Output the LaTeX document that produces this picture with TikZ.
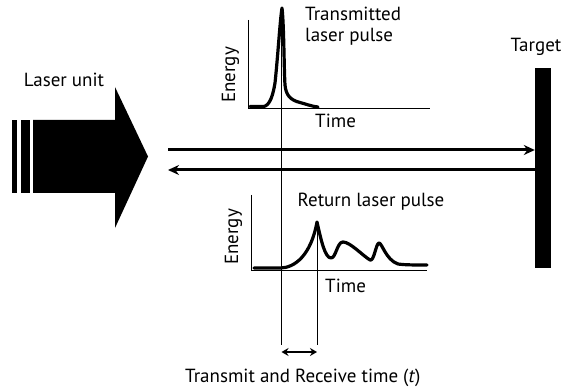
\documentclass[tikz,border=0pt]{standalone}
\usepackage{fontspec}
\setmainfont{PT Sans}
\usetikzlibrary{arrows.meta}
\begin{document}
\begin{tikzpicture}[x=1pt,y=-1pt,
  lbl/.style={font=\fontsize{19}{21}\selectfont, inner sep=0pt},
  axis/.style={line width=0.9pt},
  marker/.style={line width=0.8pt},
  pulse/.style={line width=3.2pt, line join=round, line cap=round},
  beam/.style={line width=3pt, -{Stealth[length=11pt,width=10pt]}},
  span/.style={line width=2pt, {Stealth[length=7pt,width=8pt]}-{Stealth[length=7pt,width=8pt]}}]
\useasboundingbox (0,0) rectangle (561,387);
\fill[white] (0,0) rectangle (561,387);

% laser unit
\fill (12.3,120) rectangle (16.7,193);
\fill (21,120) rectangle (30,193);
\fill (33,120) -- (115,120) -- (115,87) -- (148,156.5) -- (115,228) -- (115,193) -- (33,193) -- cycle;
\node[lbl, anchor=base] (laserlbl) at (64,87) {Laser unit};
\coordinate (laserout) at (168,150);
\coordinate (laserin) at (168,170);

% target
\node[fill=black, minimum width=16pt, minimum height=200pt, inner sep=0pt] (target) at (543,168) {};
\node[lbl, anchor=base] (targetlbl) at (536,52) {Target};

% beams
\draw[beam] (laserout) -- (laserout -| target.west);
\draw[beam] (laserin -| target.west) -- (laserin);

% transmitted pulse plot
\coordinate (t0) at (248,108);
\draw[axis] (248,20) -- (t0) -- (430,108);
\draw[pulse] (250,106.5) -- (264,106.5) .. controls (270,105) and (273,95) .. (275,83)
  .. controls (278,55) and (280,20) .. (282,8)
  .. controls (284,25) and (284,70) .. (285,85)
  .. controls (286,95) and (290,100) .. (300,102.5)
  .. controls (306,104) and (310,106) .. (318,107);
\node[lbl, anchor=base, rotate=90] (tenergy) at (235,75) {Energy};
\node[lbl, anchor=base west] (ttime) at (315,128) {Time};
\node[lbl, anchor=base west, align=left] (tlbl) at (305,42) {Transmitted\\laser pulse};

% return pulse plot
\draw[axis] (251,195) -- (251,270) -- (427,270);
\draw[pulse] (254,268) -- (280,268) .. controls (295,268) and (311,255) .. (317,222)
  .. controls (321,240) and (325,258) .. (331,258)
  .. controls (336,258) and (337,242) .. (343,242)
  .. controls (350,242) and (362,255) .. (370,260)
  .. controls (374,262) and (376,243) .. (379,243)
  .. controls (382,243) and (386,260) .. (398,264)
  .. controls (405,265) and (415,265) .. (427,265);
\node[lbl, anchor=base, rotate=90] (renergy) at (238,237) {Energy};
\node[lbl, anchor=base west] (rtime) at (325,292) {Time};
\node[lbl, anchor=base] (rlbl) at (371,207) {Return laser pulse};

% time markers
\coordinate (m1top) at (281.5,8);
\coordinate (m1bot) at (281.5,345);
\coordinate (m2top) at (317,222);
\coordinate (m2bot) at (317,345);
\draw[marker] (m1top) -- (m1bot);
\draw[marker] (m2top) -- (m2bot);
\coordinate (a1) at (281.5,352);
\coordinate (a2) at (317,352);
\draw[span] (a1) -- (a2);
\node[lbl, anchor=base west] (tlabel) at (185,382) {Transmit and Receive time (\textit{t})};
\end{tikzpicture}
\end{document}
